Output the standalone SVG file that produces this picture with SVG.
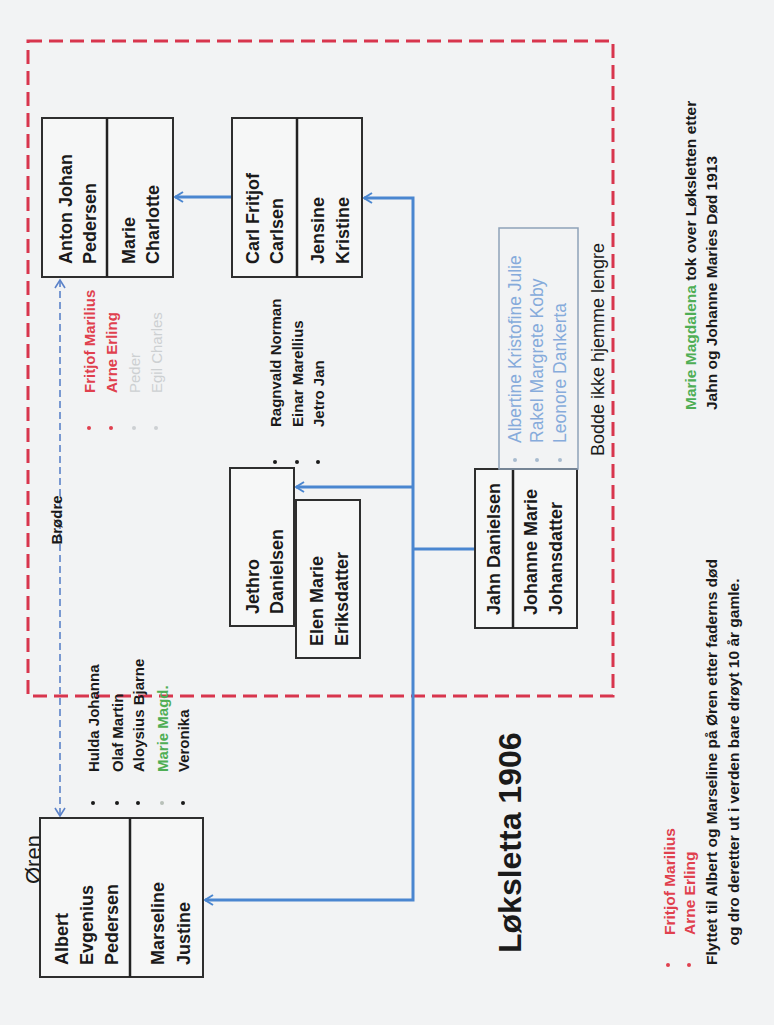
<svg xmlns="http://www.w3.org/2000/svg" width="774" height="1025" viewBox="0 0 774 1025">
<defs>
<style>
text{font-family:"Liberation Sans",Arial,sans-serif;dominant-baseline:central;}
.bx{font-size:18px;font-weight:bold;fill:#1a1a1a;}
.ls{font-size:15px;font-weight:bold;fill:#1a1a1a;}
.nt{font-size:15.5px;font-weight:bold;fill:#1a1a1a;}
.red{fill:#e0404e;}
.grn{fill:#4fae55;}
.gry{fill:#cdd0d2;font-weight:normal;}
.blu{font-size:17.5px;font-weight:normal;fill:#86abdb;}
.box{fill:#f6f7f7;stroke:#2e2e2e;stroke-width:2;}
.div{stroke:#222;stroke-width:2.5;}
.con{fill:none;stroke:#4a86d0;stroke-width:3;}
.dash{fill:none;stroke:#5b82c9;stroke-width:1.6;stroke-dasharray:7 4;}
</style>
<marker id="ah" viewBox="0 0 12 12" markerUnits="userSpaceOnUse" markerWidth="12" markerHeight="12" refX="10" refY="6" orient="auto-start-reverse">
<path d="M2,1 L10,6 L2,11" fill="none" stroke="#4a86d0" stroke-width="2"/>
</marker>
<marker id="ahd" viewBox="0 0 12 12" markerUnits="userSpaceOnUse" markerWidth="12" markerHeight="12" refX="10" refY="6" orient="auto-start-reverse">
<path d="M2,1 L10,6 L2,11" fill="none" stroke="#5b82c9" stroke-width="1.6"/>
</marker>
</defs>
<rect x="0" y="0" width="774" height="1025" fill="#f2f3f4"/>
<rect x="28" y="41" width="585" height="655" fill="none" stroke="#d8354d" stroke-width="3" stroke-dasharray="14 7"/>

<g id="connectors">
<line class="con" x1="232" y1="197" x2="175" y2="197" marker-end="url(#ah)"/>
<path class="con" d="M475,549 H413"/>
<path class="con" d="M413,549 V198 H364" marker-end="url(#ah)"/>
<path class="con" d="M413,487 H296" marker-end="url(#ah)"/>
<path class="con" d="M413,549 V900 H205" marker-end="url(#ah)"/>
<path class="dash" d="M60,280 V816" marker-start="url(#ahd)" marker-end="url(#ahd)"/>
<text class="ls" font-size="14" transform="translate(56,520) rotate(-90)" text-anchor="middle">Brødre</text>
</g>

<g id="anton">
<rect class="box" x="42" y="118" width="131" height="159"/>
<line class="div" x1="107" y1="118" x2="107" y2="277"/>
<text class="bx" transform="translate(66,264) rotate(-90)">Anton Johan</text>
<text class="bx" transform="translate(90,264) rotate(-90)">Pedersen</text>
<text class="bx" transform="translate(129,264) rotate(-90)">Marie</text>
<text class="bx" transform="translate(153,264) rotate(-90)">Charlotte</text>
</g>

<g id="anton-children">
<circle cx="89" cy="428" r="2" fill="#e0404e"/>
<circle cx="111" cy="428" r="2" fill="#e0404e"/>
<circle cx="134" cy="428" r="2" fill="#cdd0d2"/>
<circle cx="156" cy="428" r="2" fill="#cdd0d2"/>
<text class="ls red" transform="translate(89,393) rotate(-90)">Fritjof Marilius</text>
<text class="ls red" transform="translate(111,393) rotate(-90)">Arne Erling</text>
<text class="ls gry" transform="translate(134,393) rotate(-90)">Peder</text>
<text class="ls gry" transform="translate(156,393) rotate(-90)">Egil Charles</text>
</g>

<g id="carl">
<rect class="box" x="232" y="118" width="130" height="159"/>
<line class="div" x1="297" y1="118" x2="297" y2="277"/>
<text class="bx" transform="translate(253,264) rotate(-90)">Carl Fritjof</text>
<text class="bx" transform="translate(277,264) rotate(-90)">Carlsen</text>
<text class="bx" transform="translate(318,264) rotate(-90)">Jensine</text>
<text class="bx" transform="translate(343,264) rotate(-90)">Kristine</text>
</g>

<g id="jethro">
<rect class="box" x="230" y="468" width="64" height="158"/>
<text class="bx" transform="translate(253,614) rotate(-90)">Jethro</text>
<text class="bx" transform="translate(277,614) rotate(-90)">Danielsen</text>
</g>

<g id="elen">
<rect class="box" x="296" y="500" width="64" height="158"/>
<text class="bx" transform="translate(317,646) rotate(-90)">Elen Marie</text>
<text class="bx" transform="translate(342,646) rotate(-90)">Eriksdatter</text>
</g>

<g id="jethro-children">
<circle cx="275" cy="462" r="2" fill="#1a1a1a"/>
<circle cx="297" cy="462" r="2" fill="#1a1a1a"/>
<circle cx="318" cy="462" r="2" fill="#1a1a1a"/>
<text class="ls" transform="translate(275,427) rotate(-90)">Ragnvald Norman</text>
<text class="ls" transform="translate(297,427) rotate(-90)">Einar Marellius</text>
<text class="ls" transform="translate(318,427) rotate(-90)">Jetro Jan</text>
</g>

<g id="jahn">
<rect class="box" x="475" y="469" width="102" height="159"/>
<line class="div" x1="513" y1="469" x2="513" y2="628"/>
<text class="bx" transform="translate(494,615) rotate(-90)">Jahn Danielsen</text>
<text class="bx" transform="translate(531,615) rotate(-90)">Johanne Marie</text>
<text class="bx" transform="translate(556,615) rotate(-90)">Johansdatter</text>
</g>

<g id="jahn-children">
<rect x="499" y="228" width="79" height="241" fill="none" stroke="#8ea2b8" stroke-width="1.5"/>
<circle cx="515" cy="460" r="2" fill="#a9bccf"/>
<circle cx="537" cy="460" r="2" fill="#a9bccf"/>
<circle cx="560" cy="460" r="2" fill="#a9bccf"/>
<text class="blu" transform="translate(515,443) rotate(-90)">Albertine Kristofine Julie</text>
<text class="blu" transform="translate(537,443) rotate(-90)">Rakel Margrete Koby</text>
<text class="blu" transform="translate(560,443) rotate(-90)">Leonore Dankerta</text>
<text font-size="18" fill="#1a1a1a" transform="translate(598,456) rotate(-90)">Bodde ikke hjemme lengre</text>
</g>

<g id="albert">
<text font-size="22" fill="#1a1a1a" transform="translate(33,884) rotate(-90)">Øren</text>
<rect class="box" x="40" y="818" width="163" height="159"/>
<line class="div" x1="130" y1="818" x2="130" y2="977"/>
<text class="bx" transform="translate(62,965) rotate(-90)">Albert</text>
<text class="bx" transform="translate(87,965) rotate(-90)">Evgenius</text>
<text class="bx" transform="translate(112,965) rotate(-90)">Pedersen</text>
<text class="bx" transform="translate(158,965) rotate(-90)">Marseline</text>
<text class="bx" transform="translate(184,965) rotate(-90)">Justine</text>
</g>

<g id="albert-children">
<circle cx="93" cy="803" r="2" fill="#1a1a1a"/>
<circle cx="117" cy="803" r="2" fill="#1a1a1a"/>
<circle cx="138" cy="803" r="2" fill="#1a1a1a"/>
<circle cx="162" cy="803" r="2" fill="#b8c0b8"/>
<circle cx="183" cy="803" r="2" fill="#1a1a1a"/>
<text class="ls" transform="translate(93,772) rotate(-90)">Hulda Johanna</text>
<text class="ls" transform="translate(117,772) rotate(-90)">Olaf Martin</text>
<text class="ls" transform="translate(138,772) rotate(-90)">Aloysius Bjarne</text>
<text class="ls grn" transform="translate(162,772) rotate(-90)">Marie Magd.</text>
<text class="ls" transform="translate(183,772) rotate(-90)">Veronika</text>
</g>

<g id="title">
<text font-size="32" font-weight="bold" fill="#1a1a1a" transform="translate(510,953) rotate(-90)">Løksletta 1906</text>
</g>

<g id="note-top">
<text class="nt" transform="translate(690,410) rotate(-90)"><tspan class="grn">Marie Magdalena</tspan> tok over Løksletten etter</text>
<text class="nt" transform="translate(711,410) rotate(-90)">Jahn og Johanne Maries Død 1913</text>
</g>

<g id="note-bottom">
<circle cx="668" cy="965" r="2" fill="#e0404e"/>
<circle cx="689" cy="965" r="2" fill="#e0404e"/>
<text class="nt red" transform="translate(669,935) rotate(-90)">Fritjof Marilius</text>
<text class="nt red" transform="translate(689,935) rotate(-90)">Arne Erling</text>
<text class="nt" text-anchor="middle" transform="translate(711,762) rotate(-90)">Flyttet til Albert og Marseline på Øren etter faderns død</text>
<text class="nt" text-anchor="middle" transform="translate(733,762) rotate(-90)">og dro deretter ut i verden bare drøyt 10 år gamle.</text>
</g>
</svg>
